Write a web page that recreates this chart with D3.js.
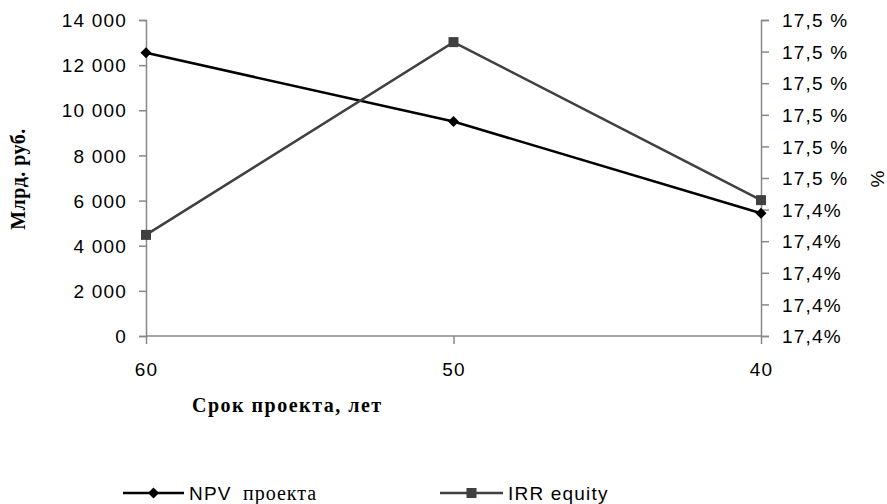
<!DOCTYPE html>
<html><head><meta charset="utf-8">
<script src="https://cdn.jsdelivr.net/npm/d3@7"></script>
<style>
body{margin:0;background:#fff;}
svg{display:block;}
.tick text{font-family:"Liberation Sans",Arial,sans-serif;font-size:19px;fill:#000;letter-spacing:1.2px;}
</style></head>
<body><svg id="c" width="887" height="504"></svg>
<script>
const categories = ["60", "50", "40"];
const npvValues = [12550, 9500, 5440];
const irrValues = [17.432, 17.493, 17.443];
const leftTicks = [0, 2000, 4000, 6000, 8000, 10000, 12000, 14000];
const rightTicks = [17.40, 17.41, 17.42, 17.43, 17.44, 17.45, 17.46, 17.47, 17.48, 17.49, 17.50];
const rightTickLabels = ["17,4%", "17,4%", "17,4%", "17,4%", "17,4%", "17,5 %", "17,5 %", "17,5 %", "17,5 %", "17,5 %", "17,5 %"];
const seriesNames = ["NPV", "проекта", "IRR equity"];

const svg = d3.select("#c");
const L = 146, R = 761, T = 20, B = 336;
const axisCol = "#888";
const sans = "'Liberation Sans',Arial,sans-serif";
const serif = "'Liberation Serif','Times New Roman',serif";

const x = d3.scalePoint().domain(categories).range([L, R]);
const yL = d3.scaleLinear().domain([0, 14000]).range([B, T]);
const yR = d3.scaleLinear().domain([17.40, 17.50]).range([B, T]);

const fmtL = d => d3.format(",")(d).replace(/,/g, " ");

const gL = svg.append("g").attr("transform", `translate(${L},0)`)
  .call(d3.axisLeft(yL).tickValues(leftTicks).tickFormat(fmtL).tickSize(7).tickPadding(12));
const gR = svg.append("g").attr("transform", `translate(${R},0)`)
  .call(d3.axisRight(yR).tickValues(rightTicks).tickFormat((d, i) => rightTickLabels[i]).tickSize(8).tickPadding(13));
const gB = svg.append("g").attr("transform", `translate(0,${B})`)
  .call(d3.axisBottom(x).tickSize(8).tickPadding(16));

[gL, gR, gB].forEach(g => {
  g.selectAll(".domain").attr("stroke", axisCol).attr("stroke-width", 1.5);
  g.selectAll(".tick line").attr("stroke", axisCol).attr("stroke-width", 1.5);
});
gL.selectAll(".tick text").attr("dy", "0.35em");
gR.selectAll(".tick text").attr("dy", "0.35em");
gB.selectAll(".domain").attr("d", `M${L},0H${R}`);
gB.selectAll(".tick text").attr("dy", "0.85em");

const npvCol = "#000", irrCol = "#404040";
const lineL = d3.line().x((d, i) => x(categories[i])).y(d => yL(d));
const lineR = d3.line().x((d, i) => x(categories[i])).y(d => yR(d));

svg.append("path").datum(npvValues).attr("d", lineL).attr("fill", "none")
  .attr("stroke", npvCol).attr("stroke-width", 2.5);
svg.append("path").datum(irrValues).attr("d", lineR).attr("fill", "none")
  .attr("stroke", irrCol).attr("stroke-width", 2.5);

const diamondPath = d3.symbol().type(d3.symbolSquare).size(60)();
svg.selectAll(".npvm").data(npvValues).join("path")
  .attr("d", diamondPath)
  .attr("transform", (d, i) => `translate(${x(categories[i])},${yL(d)}) rotate(45)`)
  .attr("fill", npvCol);
svg.selectAll(".irrm").data(irrValues).join("rect")
  .attr("x", (d, i) => x(categories[i]) - 5).attr("y", d => yR(d) - 5)
  .attr("width", 10).attr("height", 10).attr("fill", irrCol);

// titles
svg.append("text").attr("transform", "translate(25,179) rotate(-90)")
  .attr("text-anchor", "middle").attr("font-family", serif)
  .attr("font-weight", "bold").attr("font-size", 20).attr("letter-spacing", 0.5).text("Млрд. руб.");
svg.append("text").attr("x", 192).attr("y", 412)
  .attr("font-family", serif)
  .attr("font-weight", "bold").attr("font-size", 20).attr("letter-spacing", 1.5).text("Срок проекта, лет");
svg.append("text").attr("transform", "translate(884,179) rotate(-90)")
  .attr("text-anchor", "middle").attr("font-family", sans)
  .attr("font-size", 19).text("%");

// legend
const ly = 493;
const leg = [
  {x0: 123, x1: 184, col: npvCol, type: "d"},
  {x0: 440, x1: 503, col: irrCol, type: "s"}
];
leg.forEach(l => {
  svg.append("line").attr("x1", l.x0).attr("x2", l.x1).attr("y1", ly).attr("y2", ly)
    .attr("stroke", l.col).attr("stroke-width", 2.5);
  const cx = (l.x0 + l.x1) / 2;
  if (l.type === "d") {
    svg.append("path").attr("d", diamondPath)
      .attr("transform", `translate(${cx},${ly}) rotate(45)`).attr("fill", l.col);
  } else {
    svg.append("rect").attr("x", cx - 5).attr("y", ly - 5).attr("width", 10).attr("height", 10).attr("fill", l.col);
  }
});
const t1 = svg.append("text").attr("x", 189).attr("y", 500);
t1.append("tspan").attr("font-family", sans).attr("font-size", 19).attr("letter-spacing", 1.2).text(seriesNames[0]);
t1.append("tspan").attr("x", 243).attr("font-family", serif).attr("font-size", 20).attr("letter-spacing", 1).text(seriesNames[1]);
svg.append("text").attr("x", 508).attr("y", 500).attr("font-size", 19)
  .attr("font-family", sans).attr("letter-spacing", 1.2).text(seriesNames[2]);
</script></body></html>
